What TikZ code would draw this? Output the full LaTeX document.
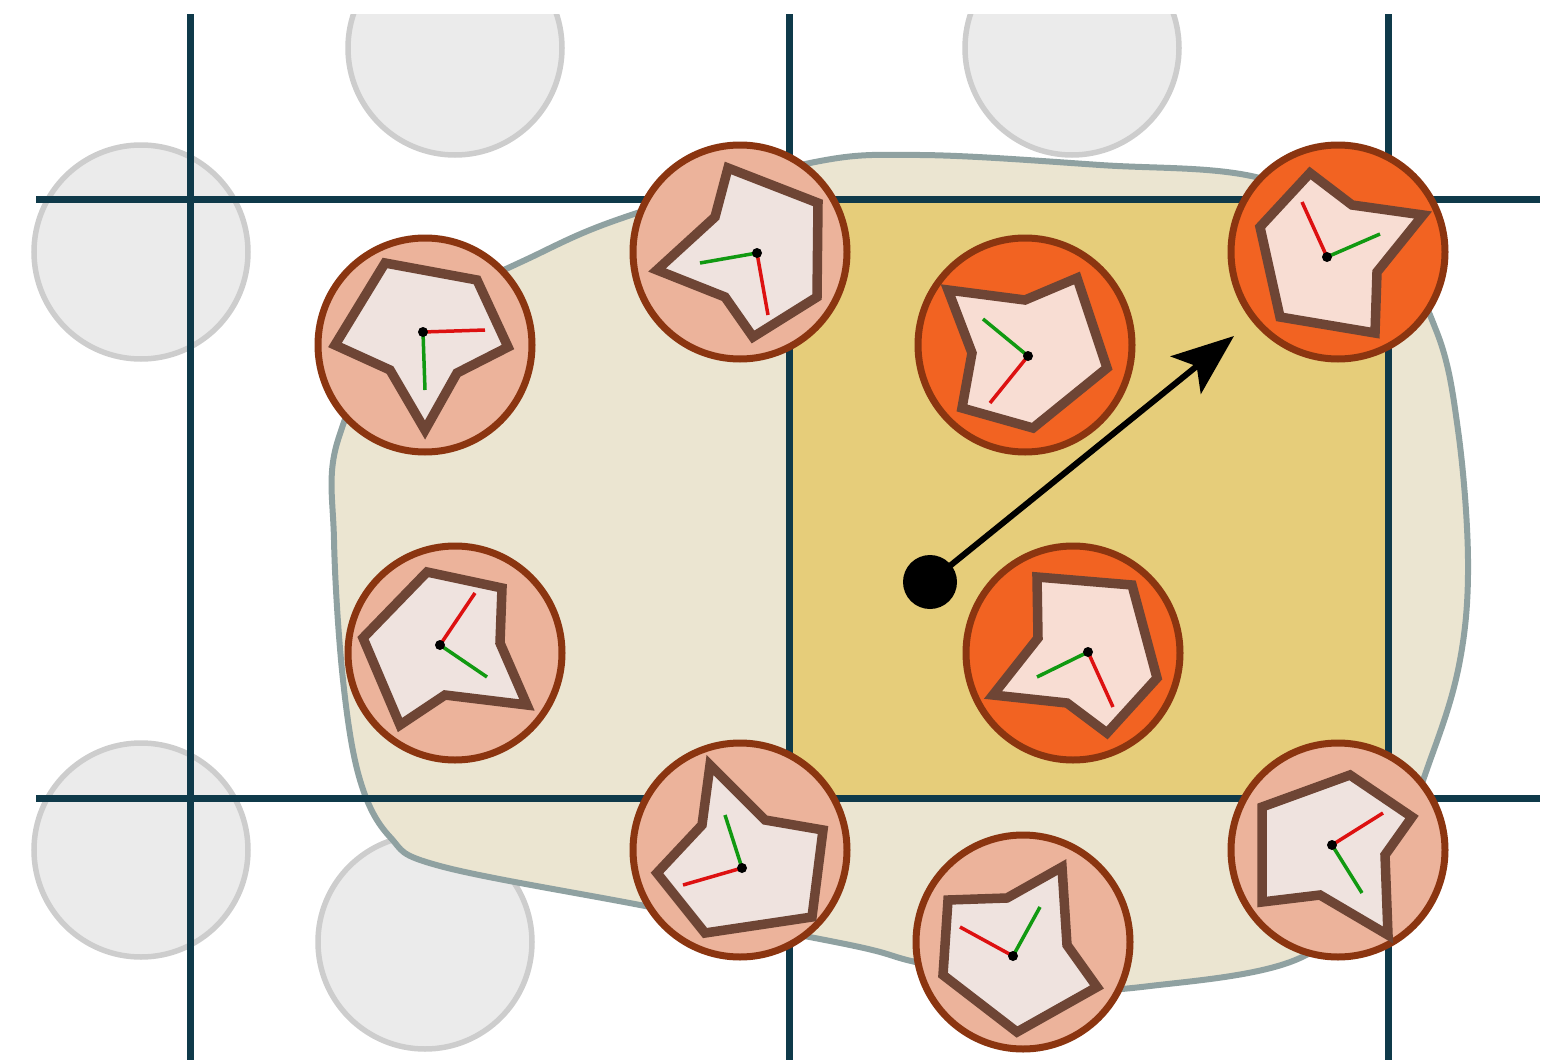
\documentclass[tikz,border=0pt]{standalone}
\usetikzlibrary{arrows.meta}
\definecolor{gridc}{HTML}{0F3A4A}
\definecolor{ghostfill}{HTML}{EBEBEB}
\definecolor{ghostline}{HTML}{CDCDCD}
\definecolor{blobfill}{HTML}{EBE5D1}
\definecolor{blobline}{HTML}{8FA1A1}
\definecolor{cellfill}{HTML}{E6CD7A}
\definecolor{ringc}{HTML}{8B3510}
\definecolor{lightbody}{HTML}{ECB39B}
\definecolor{darkbody}{HTML}{F26322}
\definecolor{polyline}{HTML}{6E4535}
\definecolor{polylight}{HTML}{EFE3DF}
\definecolor{polydark}{HTML}{F8DDD3}
\definecolor{axred}{HTML}{DD1111}
\definecolor{axgreen}{HTML}{119911}
\begin{document}
\begin{tikzpicture}[x=1pt,y=-1pt,
  ghost/.style={circle,draw=ghostline,fill=ghostfill,line width=5.5pt,minimum size=214pt,inner sep=0pt},
  gridline/.style={draw=gridc,line width=7pt},
  agent/.style={circle,draw=ringc,line width=7pt,minimum size=214pt,inner sep=0pt},
  lightagent/.style={agent,fill=lightbody},
  darkagent/.style={agent,fill=darkbody},
  polyL/.style={draw=polyline,fill=polylight,line width=9.5pt},
  polyD/.style={draw=polyline,fill=polydark,line width=9.5pt},
  redax/.style={draw=axred,line width=3.5pt},
  greenax/.style={draw=axgreen,line width=3.5pt},
  pivot/.style={circle,fill=black,minimum size=10pt,inner sep=0pt}]
\useasboundingbox (0,0) rectangle (1556,1060);
\begin{scope}
\clip (0,14) rectangle (1556,1060);
\node[ghost] (g1) at (455,48) {};
\node[ghost] (g2) at (1072,48) {};
\node[ghost] (g3) at (141,252) {};
\node[ghost] (g4) at (141,850) {};
\node[ghost] (g5) at (425,942) {};
\draw[fill=blobfill,draw=blobline,line width=6pt] plot[smooth cycle,tension=0.6] coordinates {
 (338,440) (400,330) (540,253) (640,212) (810,163) (920,155) (1100,165) (1260,178)
 (1380,235) (1436,330) (1458,430) (1468,560) (1460,660) (1432,755) (1380,880) (1300,958)
 (1150,986) (1050,988) (920,963) (850,945) (640,905) (440,866) (390,837) (360,780) (343,680) (334,540)};
\fill[cellfill] (789,199) rectangle (1388,798);
\draw[gridline] (190,14) -- (190,1060);
\draw[gridline] (789,14) -- (789,1060);
\draw[gridline] (1388,14) -- (1388,1060);
\draw[gridline] (36,199) -- (1540,199);
\draw[gridline] (36,798) -- (1540,798);
\end{scope}
% agents
\node[lightagent] (c1) at (425,345) {};
\node[lightagent] (c2) at (740,252) {};
\node[darkagent] (c3) at (1025,345) {};
\node[darkagent] (c4) at (1338,252) {};
\node[lightagent] (c5) at (455,653) {};
\node[darkagent] (c6) at (1073,653) {};
\node[lightagent] (c7) at (740,850) {};
\node[lightagent] (c8) at (1023,942) {};
\node[lightagent] (c9) at (1338,850) {};
% bodies
\draw[polyL] (385,263) -- (477,280) -- (508,347) -- (457,373) -- (425,430) -- (390,370) -- (335,345) -- cycle;
\draw[polyL] (728,168) -- (818,203) -- (817,297) -- (753,337) -- (725,297) -- (657,270) -- (715,217) -- cycle;
\draw[polyD] (948,290) -- (1025,300) -- (1077,278) -- (1107,368) -- (1033,428) -- (962,408) -- (972,353) -- cycle;
\draw[polyD] (1310,173) -- (1352,205) -- (1423,215) -- (1377,272) -- (1375,333) -- (1280,317) -- (1260,227) -- cycle;
\draw[polyL] (427,572) -- (502,588) -- (500,643) -- (527,705) -- (445,695) -- (400,725) -- (363,638) -- cycle;
\draw[polyD] (1037,577) -- (1132,585) -- (1157,678) -- (1107,733) -- (1067,703) -- (993,695) -- (1038,638) -- cycle;
\draw[polyL] (710,765) -- (765,820) -- (823,830) -- (812,917) -- (705,933) -- (657,873) -- (702,825) -- cycle;
\draw[polyL] (948,900) -- (1007,898) -- (1062,867) -- (1067,945) -- (1097,987) -- (1017,1032) -- (943,975) -- cycle;
\draw[polyL] (1350,775) -- (1412,817) -- (1385,855) -- (1388,935) -- (1320,895) -- (1262,902) -- (1262,807) -- cycle;
% axes
\coordinate (o1) at (423,332); \draw[redax] (o1) -- (485,330); \draw[greenax] (o1) -- (425,390); \node[pivot] (p1) at (o1) {};
\coordinate (o2) at (757,253); \draw[greenax] (o2) -- (700,263); \draw[redax] (o2) -- (768,315); \node[pivot] (p2) at (o2) {};
\coordinate (o3) at (1028,356); \draw[greenax] (o3) -- (983,319); \draw[redax] (o3) -- (990,403); \node[pivot] (p3) at (o3) {};
\coordinate (o4) at (1327,257); \draw[redax] (o4) -- (1302,202); \draw[greenax] (o4) -- (1380,234); \node[pivot] (p4) at (o4) {};
\coordinate (o5) at (440,645); \draw[redax] (o5) -- (475,593); \draw[greenax] (o5) -- (487,677); \node[pivot] (p5) at (o5) {};
\coordinate (o6) at (1088,652); \draw[greenax] (o6) -- (1037,677); \draw[redax] (o6) -- (1113,707); \node[pivot] (p6) at (o6) {};
\coordinate (o7) at (742,868); \draw[greenax] (o7) -- (725,815); \draw[redax] (o7) -- (683,885); \node[pivot] (p7) at (o7) {};
\coordinate (o8) at (1013,956); \draw[redax] (o8) -- (960,927); \draw[greenax] (o8) -- (1040,907); \node[pivot] (p8) at (o8) {};
\coordinate (o9) at (1332,845); \draw[redax] (o9) -- (1383,813); \draw[greenax] (o9) -- (1362,893); \node[pivot] (p9) at (o9) {};
% heading arrow
\node[circle,fill=black,minimum size=54pt,inner sep=0pt] (start) at (930,582) {};
\coordinate (tip) at (1234,336);
\draw[line width=6pt,-{Stealth[length=62pt,width=48pt,inset=14pt]}] (start.center) -- (tip);
\end{tikzpicture}
\end{document}
